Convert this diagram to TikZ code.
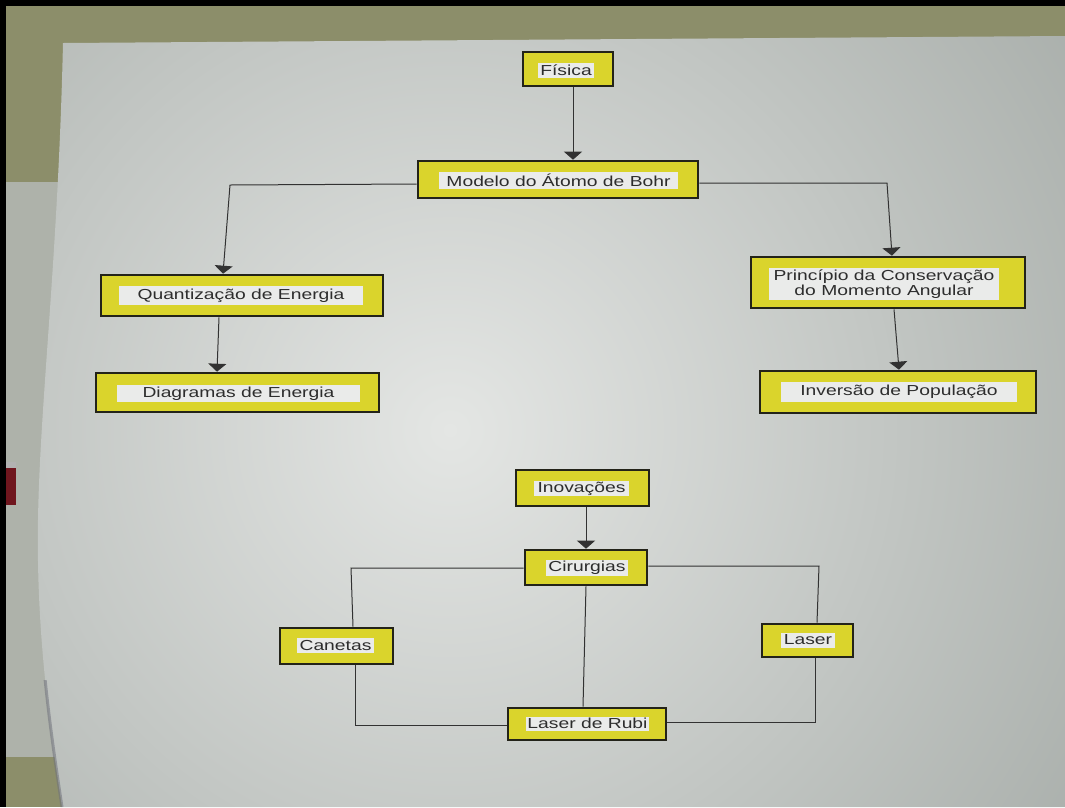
\documentclass[tikz,border=0pt]{standalone}
\usepackage{fontspec}
\newfontfamily\posterfont[FakeStretch=1.33]{Liberation Sans}
\usetikzlibrary{arrows.meta,calc}

\definecolor{wall}{RGB}{140,142,106}
\definecolor{wallstrip}{RGB}{174,178,170}
\definecolor{paperlight}{RGB}{228,230,228}
\definecolor{paperdark}{RGB}{160,166,162}
\definecolor{cardyellow}{RGB}{218,212,44}
\definecolor{cardline}{RGB}{35,35,25}
\definecolor{tagwhite}{RGB}{234,235,234}
\definecolor{ink}{RGB}{45,45,45}
\definecolor{wire}{RGB}{50,50,50}
\definecolor{redthing}{RGB}{112,22,30}
\definecolor{edgeshadow}{RGB}{112,114,124}

\begin{document}
\begin{tikzpicture}[x=1pt,y=-1pt,
  card/.style={draw=cardline, line width=2.6pt, fill=cardyellow, inner sep=0pt},
  tag/.style={fill=tagwhite, inner sep=0pt, text=ink, align=center,
              font=\posterfont\fontsize{14.5}{15}\selectfont},
  link/.style={draw=wire, line width=1pt},
  feed/.style={link, -{Triangle[width=18pt,length=8pt]}}
]
\useasboundingbox (0,0) rectangle (1065,807);

% wall behind the sheet
\fill[wall] (0,0) rectangle (1065,807);
\fill[wallstrip] (6,182) rectangle (70,757);
\fill[redthing] (6,467) rectangle (16,505);
\fill[gray!60] (6,462) rectangle (16,468);

% the sheet of paper, brighter in the middle
\begin{scope}
  \clip (63,43) -- (1065,36) -- (1065,807) -- (62,807)
        .. controls (52,740) and (36,640) .. (38,520)
        .. controls (40,400) and (58,260) .. (63,43) -- cycle;
  \shade[inner color=paperlight, outer color=paperdark] (450,430) circle (880);
\end{scope}
% shadow along the lower left edge of the sheet
\begin{scope}
  \clip (0,680) rectangle (120,807);
  \draw[line width=3pt, edgeshadow, opacity=0.55]
    (62,807) .. controls (52,740) and (36,640) .. (38,520);
\end{scope}

% black frame edges
\fill[black] (0,0) rectangle (6,807);
\fill[black] (0,0) rectangle (1065,6);

% upper map
\node[card, minimum width=90pt,  minimum height=34pt] (fis)   at (568,69)    {};
\node[tag,  minimum width=56pt,  minimum height=15pt] (fisT)  at (566,70)    {Física};
\node[card, minimum width=280pt, minimum height=37pt] (mod)   at (558,179.5) {};
\node[tag,  minimum width=239pt, minimum height=17pt] (modT)  at (558.5,180) {Modelo do Átomo de Bohr};
\node[card, minimum width=282pt, minimum height=41pt] (quant) at (242,295.5) {};
\node[tag,  minimum width=244pt, minimum height=19pt] (quantT) at (241,295.5) {Quantização de Energia};
\node[card, minimum width=283pt, minimum height=39pt] (diag)  at (237.5,392.5) {};
\node[tag,  minimum width=243pt, minimum height=17pt] (diagT) at (238.5,393.5) {Diagramas de Energia};
\node[card, minimum width=274pt, minimum height=51pt] (princ) at (888,282.5) {};
\node[tag,  minimum width=230pt, minimum height=32pt] (princT) at (884,284) {Princípio da Conservação\\do Momento Angular};
\node[card, minimum width=276pt, minimum height=42pt] (inver) at (898,392)   {};
\node[tag,  minimum width=236pt, minimum height=20pt] (inverT) at (899,392) {Inversão de População};

% lower map
\node[card, minimum width=133pt, minimum height=36pt] (inov)  at (582.5,488) {};
\node[tag,  minimum width=95pt,  minimum height=15pt] (inovT) at (581.5,488.5) {Inovações};
\node[card, minimum width=122pt, minimum height=35pt] (cir)   at (586,567.5) {};
\node[tag,  minimum width=82pt,  minimum height=16pt] (cirT)  at (587,567.5) {Cirurgias};
\node[card, minimum width=113pt, minimum height=36pt] (can)   at (336.5,646) {};
\node[tag,  minimum width=77pt,  minimum height=15pt] (canT)  at (335.5,645.5) {Canetas};
\node[card, minimum width=91pt,  minimum height=33pt] (las)   at (807.5,640.5) {};
\node[tag,  minimum width=54pt,  minimum height=15pt] (lasT)  at (808,640) {Laser};
\node[card, minimum width=158pt, minimum height=32pt] (rubi)  at (587,724)   {};
\node[tag,  minimum width=123pt, minimum height=14pt] (rubiT) at (587.5,723.5) {Laser de Rubi};

% bends of the elbow connectors
\coordinate (bendQ) at (230,185);
\coordinate (bendP) at (887,183);
\coordinate (bendC) at (351,568);
\coordinate (bendCR) at (355,725);
\coordinate (bendL) at (819,566);
\coordinate (bendLR) at (815,722);

% arrows of the upper map
\draw[feed] ($(fis.south)+(5,0)$) -- ($(mod.north)+(15,0)$);
\draw[feed] ($(mod.west)+(0,4.5)$) -- (bendQ) -- ($(quant.north)+(-19,0)$);
\draw[feed] ($(mod.east)+(0,3.5)$) -- (bendP) -- ($(princ.north)+(4,0)$);
\draw[feed] ($(quant.south)+(-23,0)$) -- ($(diag.north)+(-20.5,0)$);
\draw[feed] ($(princ.south)+(6,0)$) -- ($(inver.north)+(1,0)$);

% lines of the lower map
\draw[feed] ($(inov.south)+(3.5,0)$) -- (cir.north);
\draw[link] ($(cir.west)+(0,0.5)$) -- (bendC) -- ($(can.north)+(16.5,0)$);
\draw[link] ($(can.south)+(18.5,0)$) -- (bendCR) -- ($(rubi.west)+(0,1)$);
\draw[link] ($(cir.east)+(0,-1.5)$) -- (bendL) -- ($(las.north)+(9.5,0)$);
\draw[link] ($(las.south)+(7.5,0)$) -- (bendLR) -- ($(rubi.east)+(0,-2)$);
\draw[link] (cir.south) -- ($(rubi.north)+(-4,0)$);
\end{tikzpicture}
\end{document}
